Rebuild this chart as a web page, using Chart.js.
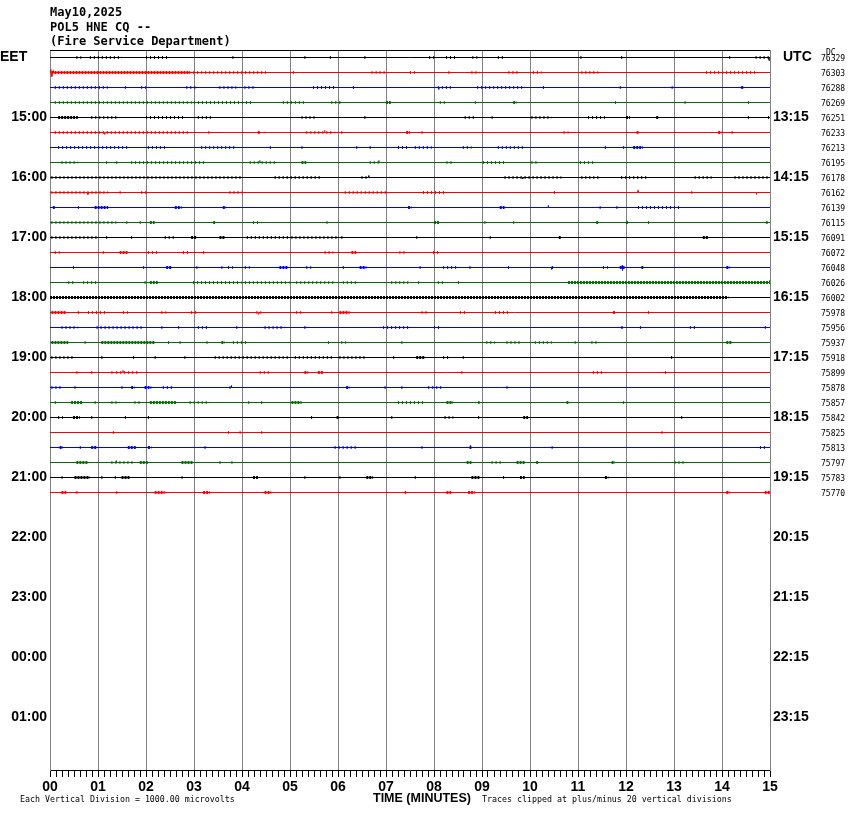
<!DOCTYPE html>
<html>
<head>
<meta charset="utf-8">
<script src="https://cdn.jsdelivr.net/npm/chart.js@4/dist/chart.umd.min.js"></script>
<style>
  html, body { margin: 0; padding: 0; background: #fff; }
  canvas { display: block; }
</style>
</head>
<body>
<canvas id="heli" width="850" height="814"></canvas>
<script>
// station header
const headerLines = ['May10,2025', 'POL5 HNE CQ --', '(Fire Service Department)'];

// hour rows (value = minutes after 14:00 EET, one trace every 15 min)
const hourValues = [0, 60, 120, 180, 240, 300, 360, 420, 480, 540, 600, 660];
const eetLabels = ['EET', '15:00', '16:00', '17:00', '18:00', '19:00', '20:00', '21:00', '22:00', '23:00', '00:00', '01:00'];
const utcLabels = ['UTC', '13:15', '14:15', '15:15', '16:15', '17:15', '18:15', '19:15', '20:15', '21:15', '22:15', '23:15'];
const minuteTicks = [0, 1, 2, 3, 4, 5, 6, 7, 8, 9, 10, 11, 12, 13, 14, 15];

const traceColors = ['#000000', '#ff0000', '#0000ff', '#007000'];

// DC offset per trace
const dcValues = [76329, 76303, 76288, 76269, 76251, 76233, 76213, 76195, 76178, 76162, 76139, 76115,
  76091, 76072, 76048, 76026, 76002, 75978, 75956, 75937, 75918, 75899, 75878, 75857,
  75842, 75825, 75813, 75797, 75783, 75770];

// noisy stretches per trace: [fromMinute, toMinute, density 2 = sparse / 3 = dense]
const busy = [
  [[0.55,0.65,2],[0.83,1.5,2],[2.0,2.5,2],[3.8,3.85,2],[5.3,5.35,2],[5.83,5.9,2],[6.55,6.62,2],[7.9,8.0,2],[8.25,8.5,2],[8.8,8.9,2],[9.33,9.47,2],[11.05,11.1,2],[11.9,11.95,2],[14.15,14.2,2],[14.7,15,2]],
  [[0.03,2.9,3],[2.9,4.5,2],[5.06,5.1,2],[6.7,7.0,2],[7.5,7.6,2],[8.3,8.34,2],[8.78,8.95,2],[9.55,9.75,2],[10.06,10.24,2],[11.07,11.42,2],[13.67,14.75,2]],
  [[0.1,1.2,2],[1.56,1.62,2],[1.9,2.0,2],[2.84,3.08,2],[3.53,3.88,2],[4.05,4.3,2],[5.48,5.93,2],[6.31,6.38,2],[8.08,8.4,2],[8.9,9.9,2],[10.27,10.3,2],[11.87,11.9,2],[12.95,12.98,2],[14.4,14.45,3]],
  [[0.1,2.95,2],[3.0,4.2,2],[4.85,5.34,2],[5.86,6.1,2],[7.0,7.1,3],[8.12,8.26,2],[8.85,8.88,2],[9.65,9.72,3],[11.77,11.8,2],[13.22,13.25,2],[14.54,14.6,2]],
  [[0.17,0.58,3],[0.86,1.42,2],[2.0,2.8,2],[3.08,3.36,2],[5.24,5.51,2],[6.55,6.58,2],[8.64,8.85,2],[9.2,9.27,2],[10.03,10.45,2],[11.21,11.56,2],[12.0,12.08,3],[12.63,12.68,3],[14.54,14.57,2],[14.96,15,2]],
  [[0.1,2.88,2],[3.3,3.33,2],[4.33,4.37,3],[5.34,5.93,2],[6.07,6.1,2],[7.42,7.5,3],[7.74,7.77,2],[10.7,10.8,2],[12.22,12.26,3],[13.92,13.99,3],[14.2,14.23,2]],
  [[0.17,1.66,2],[2.04,2.42,2],[3.15,3.85,2],[4.58,4.61,2],[5.24,5.27,2],[6.38,6.41,2],[6.66,6.69,2],[7.25,7.5,2],[7.6,7.95,2],[8.6,8.78,2],[9.33,9.9,2],[11.56,11.59,2],[11.94,11.97,2],[12.15,12.35,3]],
  [[0.24,0.58,2],[1.17,1.2,2],[1.38,1.41,2],[1.69,3.22,2],[4.16,4.72,2],[5.24,5.34,3],[6.66,6.87,2],[8.26,8.4,2],[9.02,9.47,2],[10.03,10.17,2],[11.04,11.31,2]],
  [[0.03,4.0,2],[4.68,5.62,2],[6.49,6.66,2],[9.47,10.65,2],[11.07,11.45,2],[11.9,12.46,2],[13.43,13.78,2],[14.26,15,2]],
  [[0.03,1.21,2],[1.45,1.48,2],[1.9,2.04,2],[3.74,4.06,2],[6.14,7.04,2],[7.77,8.26,2],[10.5,10.53,2],[13.36,13.39,2]],
  [[0.06,0.1,3],[0.58,0.61,2],[0.93,1.21,3],[2.6,2.74,3],[3.6,3.67,3],[7.46,7.53,3],[9.37,9.47,3],[11.45,11.48,2],[11.8,11.83,2],[12.25,13.15,2]],
  [[0.03,1.38,2],[1.59,1.62,2],[1.87,1.9,2],[2.08,2.18,3],[3.4,3.44,3],[4.23,4.4,2],[5.76,5.8,2],[8.0,8.12,3],[9.05,9.08,2],[9.65,9.7,2],[11.38,11.42,3],[12.0,12.04,3],[12.46,12.5,2],[14.92,14.95,3]],
  [[0.03,1.0,2],[1.17,1.2,2],[1.69,1.72,2],[2.39,2.6,2],[2.94,3.05,3],[3.53,3.64,3],[4.1,4.96,2],[5.03,6.0,2],[6.07,6.1,2],[7.63,7.66,2],[9.16,9.19,2],[10.6,10.64,3],[13.6,13.71,3]],
  [[0.1,0.2,2],[1.1,1.17,2],[1.45,1.62,3],[2.04,2.25,2],[2.77,2.88,2],[3.19,3.22,2],[5.72,5.9,2],[6.28,6.38,3],[7.28,7.39,2],[7.98,8.12,2]],
  [[0.48,0.51,2],[1.94,1.97,2],[2.42,2.53,3],[3.05,3.08,2],[3.57,3.6,2],[3.71,3.81,2],[4.06,4.16,2],[4.78,4.96,3],[5.34,5.44,2],[6.1,6.14,2],[6.45,6.59,3],[7.7,7.73,2],[8.19,8.47,2],[8.74,8.77,2],[9.54,9.57,2],[10.45,10.48,3],[11.52,11.62,2],[11.87,11.97,3],[12.32,12.36,3],[14.09,14.16,3]],
  [[0.38,0.51,2],[0.69,1.0,2],[1.97,2.0,2],[2.08,2.25,3],[2.98,3.99,2],[4.06,4.99,2],[5.13,5.93,2],[6.1,6.42,2],[7.11,7.5,2],[7.67,7.74,2],[8.08,8.19,2],[8.5,8.53,2],[10.79,15,3]],
  [[0.0,14.13,3]],
  [[0.03,0.34,3],[0.58,0.61,2],[0.79,1.21,2],[1.52,1.62,2],[2.32,2.42,2],[2.94,3.05,2],[4.3,4.4,2],[5.13,5.24,2],[5.86,5.89,2],[6.03,6.24,3],[7.74,7.88,2],[8.54,8.68,2],[9.27,9.54,2],[11.73,11.77,3],[12.46,12.49,2]],
  [[0.24,0.58,2],[0.97,1.97,2],[2.32,2.35,2],[2.67,2.7,2],[3.08,3.29,2],[3.88,3.91,2],[4.47,4.89,2],[5.3,5.33,2],[6.94,7.5,2],[8.0,8.15,2],[11.9,11.93,3],[12.29,12.32,2],[13.33,13.47,2],[14.89,14.92,2]],
  [[0.03,0.38,3],[0.72,0.75,2],[1.07,2.18,3],[2.46,2.49,2],[2.7,2.73,2],[3.26,3.29,2],[3.57,3.64,3],[3.81,4.13,2],[5.79,5.82,2],[6.07,6.17,2],[7.32,7.35,2],[9.09,9.27,2],[9.51,9.82,2],[10.1,10.45,2],[10.93,10.96,2],[11.28,11.42,2],[14.09,14.2,3]],
  [[0.03,0.48,2],[1.07,1.1,2],[1.73,1.76,2],[2.18,2.21,2],[2.8,2.88,2],[3.43,4.96,2],[5.1,5.93,2],[6.03,6.56,2],[7.15,7.18,2],[7.63,7.8,3],[8.19,8.33,2],[8.6,8.64,2],[12.94,12.97,2]],
  [[0.55,0.58,2],[0.86,0.89,2],[1.28,1.31,2],[1.38,1.83,2],[4.37,4.61,2],[5.3,5.38,3],[5.58,5.69,3],[8.57,8.6,2],[11.31,11.52,2],[12.81,12.84,2]],
  [[0.03,0.27,2],[0.51,0.54,2],[1.49,1.52,2],[1.69,1.76,3],[1.97,2.11,3],[2.35,2.56,2],[3.74,3.81,2],[6.17,6.24,3],[6.97,7.0,2],[7.32,7.35,2],[7.88,8.15,2],[9.51,9.58,2]],
  [[0.1,0.13,2],[0.44,0.69,3],[0.93,0.96,2],[1.28,1.45,2],[1.76,1.87,2],[2.08,2.63,3],[2.91,3.33,2],[4.13,4.16,2],[4.4,4.43,2],[5.03,5.24,3],[7.25,7.8,2],[8.26,8.4,3],[8.92,8.95,3],[10.76,10.8,3],[11.94,11.98,2]],
  [[0.17,0.27,2],[0.48,0.62,3],[0.86,0.89,2],[1.56,1.59,2],[2.04,2.07,2],[5.44,5.47,2],[5.97,6.03,3],[7.11,7.14,2],[8.22,8.4,2],[8.92,8.95,2],[9.86,9.96,3],[13.15,13.18,2]],
  [[1.31,1.34,2],[3.71,3.74,2],[3.95,3.98,2],[4.4,4.43,2],[12.74,12.81,2]],
  [[0.2,0.27,3],[0.62,0.65,2],[0.86,0.97,3],[1.62,1.8,3],[2.04,2.11,3],[3.22,3.29,2],[5.93,6.42,2],[7.74,7.77,2],[8.74,8.78,3],[10.45,10.48,2],[14.79,14.92,2]],
  [[0.55,0.79,3],[1.28,1.76,2],[1.87,2.04,3],[2.74,2.98,3],[3.53,3.56,2],[3.78,3.81,2],[8.68,8.78,3],[9.2,9.44,2],[9.72,9.89,3],[10.13,10.17,3],[11.7,11.77,3],[13.01,13.22,2]],
  [[0.24,0.31,2],[0.51,0.83,3],[1.07,1.1,2],[1.35,1.38,2],[1.49,1.66,3],[2.74,2.77,2],[4.23,4.33,3],[5.3,5.33,2],[6.03,6.06,2],[6.59,6.73,3],[7.6,7.63,2],[8.78,8.95,3],[9.44,9.51,2],[9.79,9.89,3],[11.56,11.63,3]],
  [[0.24,0.34,3],[0.55,0.58,2],[1.38,1.41,2],[2.18,2.39,3],[3.19,3.33,3],[4.47,4.61,3],[7.39,7.42,3],[8.26,8.36,3],[8.71,8.85,3],[14.09,14.16,3],[14.89,15,3]]
];

// larger single wiggles: [trace, minute, offset in px (+ = up)]
const spikes = [
  [0, 14.98, -3], [1, 0.02, 3], [1, 0.04, -4], [1, 0.07, 2], [2, 8.1, -2],
  [5, 1.14, -2], [5, 5.72, 2], [7, 4.37, 2], [7, 6.85, 2], [8, 6.64, 2],
  [8, 9.85, -1.5], [9, 0.79, -2], [9, 12.25, 2], [9, 14.72, -2], [10, 10.38, 2],
  [14, 10.45, -2], [14, 11.92, 2], [14, 11.93, -3], [15, 14.99, 2], [17, 4.35, -2],
  [21, 1.52, 2], [22, 3.78, 2], [26, 8.76, 2], [27, 1.38, 2]
];

const ROW_STEP = 15;

// quiet trace: flat line plus the larger wiggles
function buildTrace(i) {
  const base = i * ROW_STEP;
  const pts = [{ x: 0, y: base }, { x: 15, y: base }];
  spikes.filter(s => s[0] === i).forEach(([, m, off]) => {
    pts.push({ x: m - 0.004, y: base }, { x: m, y: base - off }, { x: m + 0.004, y: base });
  });
  pts.sort((p, q) => p.x - q.x);
  return pts;
}

// noisy stretches, broken apart with nulls
function buildNoise(i) {
  const base = i * ROW_STEP;
  const pts = [];
  busy[i].forEach(([a, b, d]) => {
    pts.push({ x: a, y: base, d }, { x: b, y: base, d }, { x: b + 0.0005, y: null, d });
  });
  return pts;
}

const datasets = [];
dcValues.forEach((dc, i) => {
  datasets.push({
    label: 'trace ' + i,
    data: buildTrace(i),
    borderColor: traceColors[i % 4],
    borderWidth: 1,
    pointRadius: 0,
    tension: 0
  });
  datasets.push({
    label: 'noise ' + i,
    data: buildNoise(i),
    borderColor: traceColors[i % 4],
    borderWidth: 3,
    borderCapStyle: 'butt',
    pointRadius: 0,
    spanGaps: false,
    tension: 0,
    segment: {
      borderDash: c => (c.p0.raw && c.p0.raw.d === 3) ? [2, 1] : [1, 3]
    }
  });
});

const MONO = '"DejaVu Sans Mono", monospace';
const SANS = '"Liberation Sans", Arial, sans-serif';

const textPlugin = {
  id: 'heliText',
  afterDraw(chart) {
    const { ctx, chartArea } = chart;
    const y = chart.scales.y;
    ctx.save();
    ctx.fillStyle = '#000';
    // top frame line
    ctx.strokeStyle = '#000';
    ctx.lineWidth = 1;
    ctx.beginPath();
    ctx.moveTo(chartArea.left, chartArea.top + 0.5);
    ctx.lineTo(chartArea.right, chartArea.top + 0.5);
    ctx.stroke();

    ctx.font = 'bold 12px ' + MONO;
    ctx.textAlign = 'left';
    ctx.textBaseline = 'alphabetic';
    ctx.fillText(headerLines[0], 50, 16);
    ctx.fillText(headerLines[1], 50, 31);
    ctx.fillText(headerLines[2], 50, 45);

    ctx.font = 'bold 14px ' + SANS;
    ctx.textBaseline = 'middle';
    ctx.fillText(eetLabels[0], 0, y.getPixelForValue(0));
    ctx.fillText(utcLabels[0], 783, y.getPixelForValue(0));

    ctx.font = '8px ' + MONO;
    ctx.fillText('DC', 826, 53);
    dcValues.forEach((v, i) => {
      ctx.fillText(String(v), 821, y.getPixelForValue(i * ROW_STEP) + 1);
    });

    ctx.font = '8.3px ' + MONO;
    ctx.fillText('Each Vertical Division = 1000.00 microvolts', 20, 800);
    ctx.fillText('Traces clipped at plus/minus 20 vertical divisions', 482, 800);
    ctx.font = 'bold 12.5px ' + SANS;
    ctx.fillText('TIME (MINUTES)', 373, 799);
    ctx.restore();
  }
};

const hourTicks = axis => { axis.ticks = hourValues.map(v => ({ value: v })); };

new Chart(document.getElementById('heli'), {
  type: 'line',
  data: { datasets },
  options: {
    responsive: false,
    animation: false,
    devicePixelRatio: 1,
    layout: { padding: { top: 50, left: 0, right: 0, bottom: 0 } },
    plugins: { legend: { display: false }, tooltip: { enabled: false }, title: { display: false } },
    scales: {
      x: {
        type: 'linear',
        min: 0,
        max: 15,
        afterBuildTicks: axis => {
          const t = [];
          for (let k = 0; k <= 120; k++) t.push({ value: k / 8 });
          axis.ticks = t;
        },
        afterFit: axis => { axis.height = 44; },
        grid: {
          color: c => (c.tick && Number.isInteger(c.tick.value)) ? '#808080' : 'rgba(0,0,0,0)',
          tickColor: '#000',
          tickLength: 7,
          lineWidth: 1
        },
        border: { display: true, color: '#000', width: 1 },
        ticks: {
          autoSkip: false,
          maxRotation: 0,
          padding: 2,
          color: '#000',
          font: { family: SANS, size: 14, weight: 'bold' },
          callback: v => minuteTicks.includes(v) ? String(v).padStart(2, '0') : ''
        }
      },
      y: {
        type: 'linear',
        position: 'left',
        reverse: true,
        min: -7.5,
        max: 712.5,
        afterBuildTicks: hourTicks,
        afterFit: axis => { axis.width = 50; },
        grid: { display: false, drawTicks: false },
        border: { display: true, color: '#808080' },
        ticks: {
          padding: 3,
          color: '#000',
          font: { family: SANS, size: 14, weight: 'bold' },
          callback: v => { const k = hourValues.indexOf(v); return k > 0 ? eetLabels[k] : ''; }
        }
      },
      utc: {
        type: 'linear',
        position: 'right',
        reverse: true,
        min: -7.5,
        max: 712.5,
        afterBuildTicks: hourTicks,
        afterFit: axis => { axis.width = 80; },
        grid: { display: false, drawTicks: false },
        border: { display: true, color: '#808080' },
        ticks: {
          padding: 3,
          color: '#000',
          font: { family: SANS, size: 14, weight: 'bold' },
          callback: v => { const k = hourValues.indexOf(v); return k > 0 ? utcLabels[k] : ''; }
        }
      }
    }
  },
  plugins: [textPlugin]
});
</script>
</body>
</html>
